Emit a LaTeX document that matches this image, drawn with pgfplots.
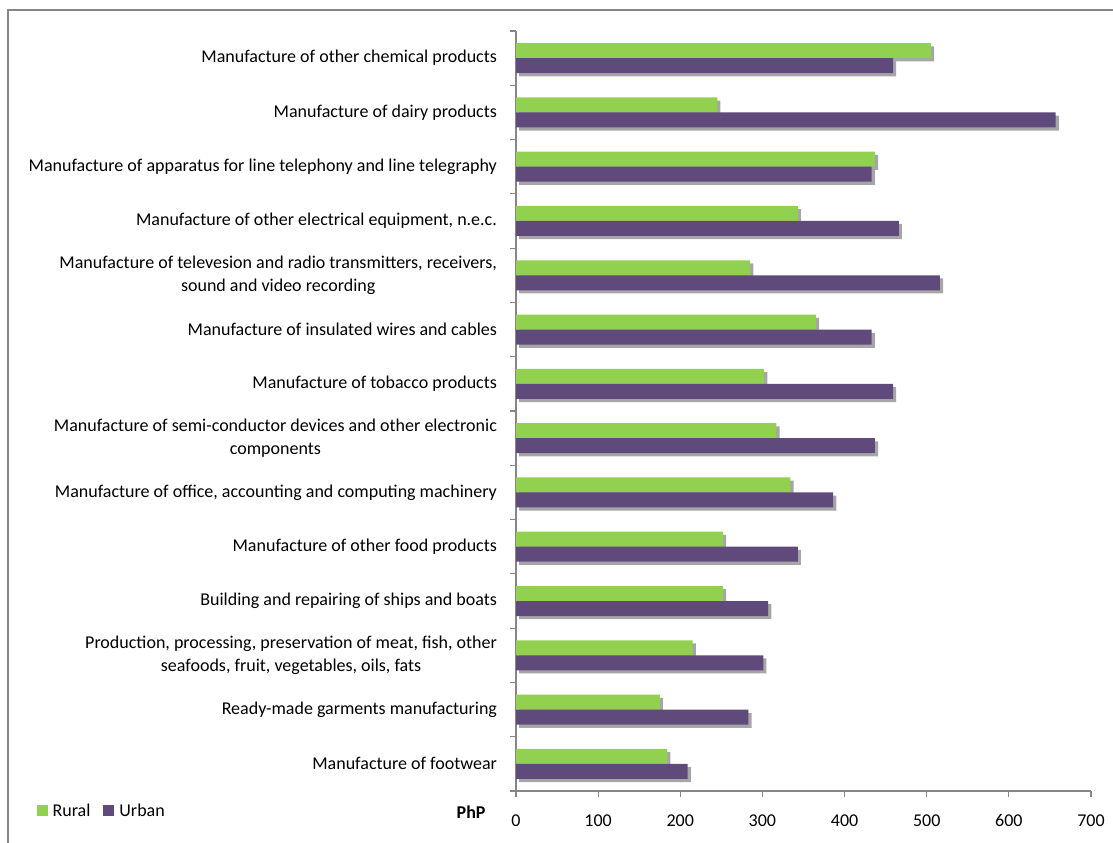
\documentclass[border=0pt]{standalone}
\usepackage{fontspec}
\setmainfont{Carlito}
\usepackage{pgfplots}
\usepackage{pgfplotstable}
\pgfplotsset{compat=1.18}
\usetikzlibrary{shadows}
\definecolor{rural}{HTML}{92D050}
\definecolor{urban}{HTML}{604A7B}
\definecolor{axgray}{HTML}{868686}

\pgfplotstableread{
y rural urban
0 184 209
1 175 283
2 215 301
3 252 307
4 252 343
5 334 386
6 317 437
7 302 459
8 365 433
9 285 516
10 343 466
11 437 433
12 245 657
13 505 459
}\datatable

\begin{document}
\begin{tikzpicture}
\useasboundingbox (0,0) rectangle (556.5pt,421pt);
\draw[axgray, line width=0.8pt] (4pt,-5pt) -- (4pt,416pt) -- (565pt,416pt);
\begin{axis}[
  at={(258pt,25.5pt)}, anchor=south west,
  scale only axis, width=287.5pt, height=380pt,
  xmin=0, xmax=700, ymin=-0.5, ymax=13.5,
  xtick={0,100,...,700},
  ytick={0,...,13},
  minor ytick={-0.5,0.5,...,13.5},
  yticklabels={
    {Manufacture of footwear},
    {Ready-made garments manufacturing},
    {Production, processing, preservation of meat, fish, other\\seafoods, fruit, vegetables, oils, fats},
    {Building and repairing of ships and boats},
    {Manufacture of other food products},
    {Manufacture of office, accounting and computing machinery},
    {Manufacture of semi-conductor devices and other electronic\\components},
    {Manufacture of tobacco products},
    {Manufacture of insulated wires and cables},
    {Manufacture of televesion and radio transmitters, receivers,\\sound and video recording},
    {Manufacture of other electrical equipment, n.e.c.},
    {Manufacture of apparatus for line telephony and line telegraphy},
    {Manufacture of dairy products},
    {Manufacture of other chemical products}},
  axis x line*=bottom, axis y line*=left,
  axis line style={axgray, line width=0.6pt},
  tick style={axgray, line width=0.6pt},
  major y tick style={draw=none},
  tick align=outside,
  major tick length=3pt, minor tick length=3pt,
  /pgf/number format/assume math mode=true,
  ticklabel style={font=\fontsize{9}{11.5}\selectfont, text=black},
  yticklabel style={align=center, xshift=-3pt},
  xticklabel style={yshift=-5pt, text height=6.2pt, text depth=0pt},
  xlabel={\textbf{PhP}},
  xlabel style={at={(axis description cs:-0.078,-0.028)}, anchor=center, font=\fontsize{9}{11}\selectfont},
  legend style={at={(axis description cs:-0.845,-0.027)}, anchor=west, draw=none, fill=none,
    legend columns=2, font=\fontsize{9}{11}\selectfont,
    nodes={inner xsep=2.5pt},
    /tikz/every even column/.append style={column sep=4pt}},
  legend image code/.code={\fill[#1] (0pt,-2.2pt) rectangle (5.5pt,3.3pt);},
]
\addplot[xbar, bar width=7.5pt, bar shift=3.75pt, fill=rural, draw=none, forget plot,
  drop shadow={shadow xshift=1.6pt, shadow yshift=-1.6pt, opacity=0.35, fill=black}]
  table[x=rural, y=y] {\datatable};
\addplot[xbar, bar width=7.5pt, bar shift=-3.75pt, fill=urban, draw=none, forget plot,
  drop shadow={shadow xshift=1.6pt, shadow yshift=-1.6pt, opacity=0.35, fill=black}]
  table[x=urban, y=y] {\datatable};
\addlegendimage{fill=rural, draw=none}
\addlegendentry{Rural}
\addlegendimage{fill=urban, draw=none}
\addlegendentry{Urban}
\end{axis}
\end{tikzpicture}
\end{document}
